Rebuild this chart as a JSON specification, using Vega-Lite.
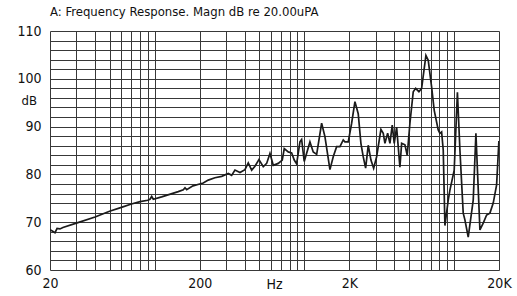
{
  "$schema": "https://vega.github.io/schema/vega-lite/v6.json",
  "autosize": "none",
  "width": 449,
  "height": 239,
  "padding": {"left": 50, "top": 31, "right": 18, "bottom": 26},
  "background": "white",
  "title": {
    "text": "A: Frequency Response. Magn dB re 20.00uPA",
    "anchor": "start",
    "frame": "group",
    "baseline": "alphabetic",
    "offset": 11,
    "dy": 16,
    "fontSize": 13,
    "fontWeight": "normal",
    "font": "Liberation Sans Narrow, DejaVu Sans Condensed, Liberation Sans, sans-serif",
    "color": "#111"
  },
  "config": {
    "view": {"stroke": null},
    "axis": {
      "labelFont": "Liberation Sans Narrow, DejaVu Sans Condensed, Liberation Sans, sans-serif",
      "titleFont": "Liberation Sans Narrow, DejaVu Sans Condensed, Liberation Sans, sans-serif",
      "labelColor": "#111",
      "titleColor": "#111",
      "gridColor": "#383838",
      "gridOpacity": 1,
      "gridWidth": 1,
      "domain": false,
      "ticks": false,
      "tickSize": 0
    }
  },
  "data": {
    "values": [
      {"f": 20, "db": 68.4},
      {"f": 20.6, "db": 68.2},
      {"f": 21.6, "db": 67.8},
      {"f": 22.3, "db": 68.7},
      {"f": 23.3, "db": 68.6},
      {"f": 24.4, "db": 68.9},
      {"f": 30, "db": 69.8},
      {"f": 40, "db": 71.1},
      {"f": 50, "db": 72.3},
      {"f": 60, "db": 73.1},
      {"f": 70, "db": 73.8},
      {"f": 80, "db": 74.3},
      {"f": 90, "db": 74.6},
      {"f": 93.1, "db": 74.8},
      {"f": 95.6, "db": 75.4},
      {"f": 98.0, "db": 74.8},
      {"f": 111.4, "db": 75.3},
      {"f": 143.9, "db": 76.4},
      {"f": 155.5, "db": 76.8},
      {"f": 159.6, "db": 77.2},
      {"f": 163.8, "db": 76.8},
      {"f": 180.4, "db": 77.6},
      {"f": 200, "db": 78.0},
      {"f": 211.4, "db": 78.2},
      {"f": 228.2, "db": 78.8},
      {"f": 253, "db": 79.3},
      {"f": 280.6, "db": 79.6},
      {"f": 310.6, "db": 80.2},
      {"f": 327.2, "db": 79.8},
      {"f": 344.2, "db": 80.9},
      {"f": 371.8, "db": 80.4},
      {"f": 401.4, "db": 81.0},
      {"f": 422.4, "db": 82.4},
      {"f": 445.2, "db": 80.9},
      {"f": 468.2, "db": 81.7},
      {"f": 497.8, "db": 83.1},
      {"f": 532, "db": 81.6},
      {"f": 560.6, "db": 82.3},
      {"f": 589.8, "db": 84.4},
      {"f": 620.4, "db": 81.9},
      {"f": 670, "db": 82.3},
      {"f": 712.6, "db": 83.0},
      {"f": 734.8, "db": 85.4},
      {"f": 781.4, "db": 84.7},
      {"f": 823.4, "db": 84.5},
      {"f": 857, "db": 83.0},
      {"f": 889.2, "db": 82.2},
      {"f": 935.4, "db": 86.8},
      {"f": 960.2, "db": 87.3},
      {"f": 999.2, "db": 82.7},
      {"f": 1091, "db": 86.8},
      {"f": 1148, "db": 84.7},
      {"f": 1210, "db": 84.2},
      {"f": 1306, "db": 90.7},
      {"f": 1374, "db": 87.9},
      {"f": 1484, "db": 81.0},
      {"f": 1561, "db": 83.7},
      {"f": 1645, "db": 85.8},
      {"f": 1731, "db": 85.8},
      {"f": 1821, "db": 87.2},
      {"f": 1869, "db": 86.8},
      {"f": 1967, "db": 86.8},
      {"f": 2072, "db": 90.7},
      {"f": 2180, "db": 95.2},
      {"f": 2293, "db": 92.7},
      {"f": 2390, "db": 86.5},
      {"f": 2476, "db": 83.7},
      {"f": 2570, "db": 81.3},
      {"f": 2675, "db": 86.1},
      {"f": 2789, "db": 83.0},
      {"f": 2907, "db": 81.3},
      {"f": 3044, "db": 83.7},
      {"f": 3252, "db": 89.4},
      {"f": 3370, "db": 88.6},
      {"f": 3458, "db": 86.5},
      {"f": 3606, "db": 88.6},
      {"f": 3735, "db": 86.5},
      {"f": 3870, "db": 90.3},
      {"f": 3990, "db": 86.5},
      {"f": 4140, "db": 89.9},
      {"f": 4355, "db": 81.5},
      {"f": 4472, "db": 86.5},
      {"f": 4704, "db": 86.2},
      {"f": 4874, "db": 84.0},
      {"f": 5080, "db": 90.7},
      {"f": 5346, "db": 97.3},
      {"f": 5546, "db": 98.0},
      {"f": 5834, "db": 97.3},
      {"f": 6082, "db": 98.0},
      {"f": 6498, "db": 104.9},
      {"f": 6732, "db": 103.9},
      {"f": 7092, "db": 98.3},
      {"f": 7382, "db": 93.4},
      {"f": 7852, "db": 89.3},
      {"f": 8058, "db": 88.6},
      {"f": 8272, "db": 88.9},
      {"f": 8480, "db": 85.1},
      {"f": 8704, "db": 69.3},
      {"f": 9158, "db": 74.6},
      {"f": 9398, "db": 76.7},
      {"f": 10040, "db": 80.9},
      {"f": 10548, "db": 97.2},
      {"f": 10962, "db": 85.1},
      {"f": 11534, "db": 71.9},
      {"f": 11838, "db": 70.5},
      {"f": 12456, "db": 66.9},
      {"f": 13452, "db": 74.6},
      {"f": 14022, "db": 88.6},
      {"f": 14912, "db": 68.4},
      {"f": 15690, "db": 69.8},
      {"f": 16532, "db": 71.5},
      {"f": 17390, "db": 71.9},
      {"f": 18298, "db": 74.0},
      {"f": 19278, "db": 77.8},
      {"f": 19968, "db": 87.0}
    ]
  },
  "mark": {"type": "line", "color": "#1a1a1a", "strokeWidth": 1.7, "clip": true},
  "encoding": {
    "x": {
      "field": "f",
      "type": "quantitative",
      "scale": {"type": "log", "domain": [20, 20000], "nice": false},
      "axis": {
        "values": [20, 30, 40, 50, 60, 70, 80, 90, 100, 200, 300, 400, 500, 600, 700, 800, 900, 1000, 2000, 3000, 4000, 5000, 6000, 7000, 8000, 9000, 10000, 20000],
        "labelExpr": "datum.value == 20 ? '20' : datum.value == 200 ? '200' : datum.value == 2000 ? '2K' : datum.value == 20000 ? '20K' : ''",
        "labelFontSize": 14,
        "labelPadding": 6,
        "labelBaseline": "top",
        "labelFlush": false,
        "labelOverlap": false,
        "title": "Hz",
        "titleFontSize": 14,
        "titleFontWeight": "normal",
        "titleX": 224,
        "titleY": 18,
        "titleAlign": "center",
        "titleBaseline": "alphabetic"
      }
    },
    "y": {
      "field": "db",
      "type": "quantitative",
      "scale": {"domain": [60, 110], "nice": false, "zero": false},
      "axis": {
        "values": [60, 62, 64, 66, 68, 70, 72, 74, 76, 78, 80, 82, 84, 86, 88, 90, 92, 94, 96, 98, 100, 102, 104, 106, 108, 110],
        "labelExpr": "datum.value % 10 == 0 ? datum.label : ''",
        "labelFontSize": 14,
        "labelPadding": 9,
        "labelOverlap": false,
        "labelFlush": false,
        "title": "dB",
        "titleAngle": 0,
        "titleFontSize": 13,
        "titleFontWeight": "normal",
        "titleX": -29,
        "titleY": 73,
        "titleAlign": "left",
        "titleBaseline": "alphabetic"
      }
    }
  }
}
